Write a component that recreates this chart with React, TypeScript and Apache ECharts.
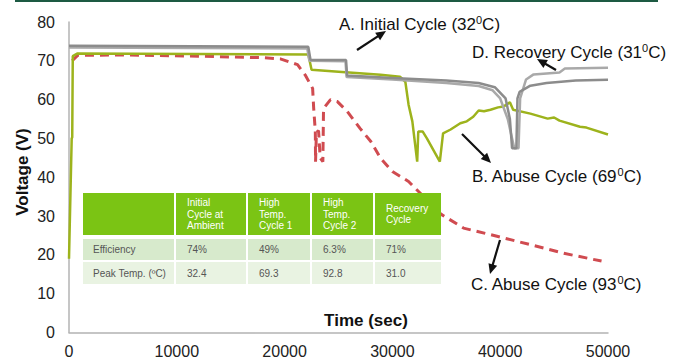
import React, { useEffect, useRef } from "react";
import * as echarts from "echarts";

const FONT = "'Liberation Sans', Arial, Helvetica, sans-serif";

// Axis ranges / ticks
const xMin = 0;
const xMax = 50000;
const xInterval = 10000;
const yMin = 0;
const yMax = 80;
const yInterval = 10;

// Series: [time (sec), voltage (V)]
const initialCycleA: [number, number][] = [
  [0, 73.9], [22200, 73.6], [22400, 70.3], [25700, 70.2], [25800, 66.2],
  [30000, 65.6], [35000, 64.9], [38000, 64.3], [39500, 63.2], [40500, 60.3],
  [40900, 55], [41100, 47.5], [41500, 47.5], [41600, 60.3], [41800, 62],
  [42800, 63.6], [44300, 64.3], [47000, 64.9], [50000, 65.1],
];

const recoveryCycleD: [number, number][] = [
  [0, 73.4], [22100, 73.2], [22300, 70], [25650, 69.9], [25750, 65.8],
  [30000, 65.2], [35000, 64.3], [38000, 63.5], [39300, 62.4], [40000, 60.3],
  [40700, 55], [41300, 47.5], [41700, 47.5], [41850, 60.3], [42400, 65.2],
  [43100, 66.5], [45500, 67.0], [46000, 68], [50000, 68.2],
];

const abuseCycleB: [number, number][] = [
  [0, 19], [250, 50], [300, 50.3], [350, 71.2], [800, 71.9], [22200, 71.6],
  [22500, 67.7], [25000, 67.2], [28900, 66.4], [30700, 65.9], [31200, 64.6],
  [31500, 58.7], [31850, 54.4], [32300, 44], [32400, 51.8], [32800, 51.8],
  [33200, 50], [34400, 44], [34700, 51.3], [35400, 52.3], [36300, 53.9],
  [36900, 54.4], [37500, 55.6], [38000, 57.2], [38500, 57.0], [39100, 57.4],
  [39800, 58.0], [40300, 58.2], [40900, 59.3], [41200, 57.4], [42800, 56.4],
  [44400, 55.1], [45000, 55.4], [45500, 54.6], [47400, 53], [48000, 52.8],
  [50000, 51],
];

const abuseCycleC: [number, number][] = [
  [300, 70], [800, 71.4], [5000, 71.5], [12000, 71.2], [18000, 70.8],
  [19600, 70.5], [21200, 69], [21900, 66.4], [22600, 62.9], [22700, 57.7],
  [22850, 51.8], [22870, 44], [22950, 51.5], [23150, 52], [23300, 45],
  [23550, 44], [23611, 57.7], [24259, 60], [24900, 59.5], [25800, 57],
  [27000, 52.6], [28000, 49.2], [28900, 44.9], [30000, 41.5], [31500, 38.9],
  [32400, 36.4], [34500, 30.5], [36600, 26.9], [39700, 24.8], [42700, 22.7],
  [45900, 20.4], [49400, 18.4],
];

// Table content
const tableColumns = ["Initial\nCycle at\nAmbient", "High\nTemp.\nCycle 1", "High\nTemp.\nCycle 2", "Recovery\nCycle"];
const tableRowLabels = ["Efficiency", "Peak Temp. (ºC)"];
const efficiencyValues = ["74%", "49%", "6.3%", "71%"];
const peakTempValues = ["32.4", "69.3", "92.8", "31.0"];

// Annotation labels (main text, superscript, tail)
const annotationLabels = [
  { pre: "A. Initial Cycle (32", sup: "0", post: "C)" },
  { pre: "D. Recovery Cycle (31", sup: "0", post: "C)" },
  { pre: "B. Abuse Cycle (69", sup: "0", post: "C)" },
  { pre: "C. Abuse Cycle (93", sup: "0", post: "C)" },
];
const annotationPos = [
  { x: 339, y: 24 },
  { x: 472, y: 52 },
  { x: 472, y: 176 },
  { x: 471, y: 284 },
];
const arrowPos = [
  [357, 50, 386, 31],
  [556, 70, 537, 59],
  [462, 134, 491, 163],
  [500, 240, 490, 274],
];

function arrow(x1: number, y1: number, x2: number, y2: number) {
  const dx = x2 - x1, dy = y2 - y1;
  const L = Math.hypot(dx, dy);
  const ux = dx / L, uy = dy / L;
  const hl = 10, hw = 4.5;
  const bx = x2 - ux * hl, by = y2 - uy * hl;
  return [
    { type: "line", shape: { x1, y1, x2: bx + ux * 2, y2: by + uy * 2 }, style: { stroke: "#111", lineWidth: 2.2 }, z: 50 },
    {
      type: "polygon",
      shape: { points: [[x2, y2], [bx - uy * hw, by + ux * hw], [bx + uy * hw, by - ux * hw]] },
      style: { fill: "#111" },
      z: 50,
    },
  ];
}

function buildTable() {
  const cols = [[83, 174], [176, 246], [248, 310], [312, 373], [375, 441]];
  const rows = [[193, 235], [239, 260], [262, 284]];
  const fills = ["#7bc414", "#d7eacc", "#e9f3e2"];
  const els: any[] = [];
  rows.forEach((r, ri) => {
    cols.forEach((c) => {
      els.push({
        type: "rect",
        shape: { x: c[0], y: r[0], width: c[1] - c[0], height: r[1] - r[0] },
        style: { fill: fills[ri] },
        z: 40,
      });
    });
  });
  tableColumns.forEach((t, i) => {
    els.push({
      type: "text",
      x: cols[i + 1][0] + 11,
      y: 214,
      style: { text: t, fill: "#ffffff", font: `10px ${FONT}`, lineHeight: 11.5, verticalAlign: "middle", align: "left" },
      z: 41,
    });
  });
  const bodyRows = [efficiencyValues, peakTempValues];
  bodyRows.forEach((vals, ri) => {
    const cy = (rows[ri + 1][0] + rows[ri + 1][1]) / 2;
    els.push({
      type: "text",
      x: cols[0][0] + 10,
      y: cy,
      style: { text: tableRowLabels[ri], fill: "#555", font: `10px ${FONT}`, verticalAlign: "middle", align: "left" },
      z: 41,
    });
    vals.forEach((v, i) => {
      els.push({
        type: "text",
        x: cols[i + 1][0] + 11,
        y: cy,
        style: { text: v, fill: "#555", font: `10px ${FONT}`, verticalAlign: "middle", align: "left" },
        z: 41,
      });
    });
  });
  return els;
}

function buildAnnotations() {
  const els: any[] = [];
  annotationLabels.forEach((a, i) => {
    els.push({
      type: "text",
      x: annotationPos[i].x,
      y: annotationPos[i].y,
      style: {
        text: `{m|${a.pre}}{s|${a.sup}}{m|${a.post}}`,
        rich: {
          m: { fontSize: 17, fontFamily: FONT, fill: "#111", lineHeight: 20 },
          s: { fontSize: 11, fontFamily: FONT, fill: "#111", lineHeight: 13, verticalAlign: "top" },
        },
        verticalAlign: "middle",
        align: "left",
      },
      z: 50,
    });
    const p = arrowPos[i];
    els.push(...arrow(p[0], p[1], p[2], p[3]));
  });
  return els;
}

export default function App() {
  const ref = useRef<HTMLDivElement>(null);
  useEffect(() => {
    if (!ref.current) return;
    const chart = echarts.init(ref.current, undefined, { renderer: "svg" });
    const axisColor = "#b3b3b3";
    chart.setOption({
      animation: false,
      backgroundColor: "#ffffff",
      grid: { left: 69, right: 77, top: 22, bottom: 30.5 },
      xAxis: {
        type: "value",
        min: xMin,
        max: xMax,
        interval: xInterval,
        axisLine: { show: true, lineStyle: { color: axisColor, width: 1.5 } },
        axisTick: { show: false },
        splitLine: { show: false },
        axisLabel: { fontSize: 16, color: "#222", margin: 11, fontFamily: FONT, formatter: (v: number) => String(v) },
      },
      yAxis: {
        type: "value",
        min: yMin,
        max: yMax,
        interval: yInterval,
        axisLine: { show: true, lineStyle: { color: axisColor, width: 1.5 } },
        axisTick: { show: false },
        splitLine: { show: false },
        axisLabel: { fontSize: 16, color: "#222", margin: 14, fontFamily: FONT, formatter: (v: number) => String(v) },
      },
      series: [
        {
          name: "C. Abuse Cycle (93C)",
          type: "line",
          data: abuseCycleC,
          showSymbol: false,
          symbol: "none",
          lineStyle: { color: "#d04b50", width: 3, type: [9, 6] },
          z: 2,
        },
        {
          name: "B. Abuse Cycle (69C)",
          type: "line",
          data: abuseCycleB,
          showSymbol: false,
          symbol: "none",
          lineStyle: { color: "#9db31c", width: 2.5 },
          z: 3,
        },
        {
          name: "D. Recovery Cycle (31C)",
          type: "line",
          data: recoveryCycleD,
          showSymbol: false,
          symbol: "none",
          lineStyle: { color: "#a9a9a9", width: 2.5 },
          z: 4,
        },
        {
          name: "A. Initial Cycle (32C)",
          type: "line",
          data: initialCycleA,
          showSymbol: false,
          symbol: "none",
          lineStyle: { color: "#8c8c8c", width: 2.5 },
          z: 5,
        },
      ],
      graphic: [
        { type: "rect", shape: { x: 15, y: 0, width: 643, height: 2 }, style: { fill: "#1d5a43" }, z: 50 },
        {
          type: "text",
          x: 366,
          y: 320,
          style: { text: "Time (sec)", font: `bold 17px ${FONT}`, fill: "#111", align: "center", verticalAlign: "middle" },
          z: 50,
        },
        {
          type: "text",
          x: 22,
          y: 172,
          rotation: Math.PI / 2,
          style: { text: "Voltage (V)", font: `bold 17px ${FONT}`, fill: "#111", align: "center", verticalAlign: "middle" },
          z: 50,
        },
        ...buildTable(),
        ...buildAnnotations(),
      ],
    });
    return () => chart.dispose();
  }, []);
  return (
    <div
      ref={ref}
      style={{ position: "absolute", left: 0, top: 0, width: 685, height: 363, background: "#fff" }}
    />
  );
}
